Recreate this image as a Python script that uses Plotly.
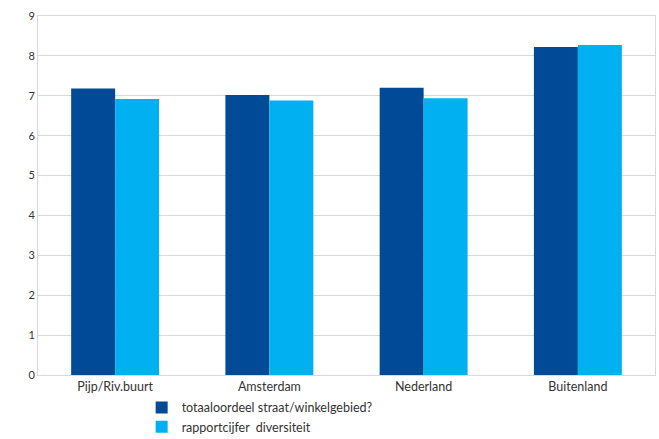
import plotly.graph_objects as go

categories = ["Pijp/Riv.buurt", "Amsterdam", "Nederland", "Buitenland"]
totaal = [7.18, 7.02, 7.2, 8.22]
diversiteit = [6.92, 6.88, 6.94, 8.27]
series_names = ["totaaloordeel straat/winkelgebied?", "rapportcijfer  diversiteit"]

fig = go.Figure()
fig.add_trace(go.Bar(x=categories, y=totaal, name=series_names[0],
                     marker=dict(color="#004A98", line=dict(width=0))))
fig.add_trace(go.Bar(x=categories, y=diversiteit, name=series_names[1],
                     marker=dict(color="#00B0F0", line=dict(width=0))))

font = "Lato, Noto Sans, sans-serif"
fig.update_layout(
    width=659, height=439,
    margin=dict(l=38, r=4, t=16, b=64, autoexpand=False),
    plot_bgcolor="white", paper_bgcolor="white",
    barmode="group", bargap=0.43, bargroupgap=0,
    font=dict(family=font, size=12, color="#333333"),
    showlegend=True,
    legend=dict(x=0.168, y=-0.05, xanchor="left", yanchor="top",
                orientation="v", font=dict(size=12.5, color="#333333"),
                tracegroupgap=0, itemwidth=30),
)
fig.update_xaxes(showline=True, linecolor="#d9d9d9", linewidth=1, mirror=True,
                 ticks="", tickfont=dict(size=12.5))
fig.update_yaxes(range=[0, 9], dtick=1, showgrid=True, gridcolor="#d9d9d9",
                 showline=True, linecolor="#d9d9d9", mirror=True, zeroline=False,
                 tickfont=dict(size=11), ticks="", ticklen=0)
fig.write_html("out.html")
